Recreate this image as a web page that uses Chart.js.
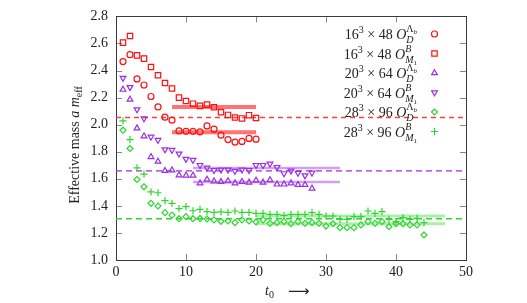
<!DOCTYPE html>
<html>
<head>
<meta charset="utf-8">
<script src="https://cdn.jsdelivr.net/npm/chart.js@4/dist/chart.umd.min.js"></script>
<style>
  html, body { margin: 0; padding: 0; background: #fff; }
  #wrap { width: 527px; height: 303px; }
</style>
</head>
<body>
<div id="wrap"><canvas id="mass-chart" width="527" height="303"></canvas></div>
<script>
// t0 values (time slices)
const t0 = [1, 2, 3, 4, 5, 6, 7, 8, 9, 10, 11, 12, 13, 14, 15, 16, 17, 18, 19, 20, 21, 22,
  23, 24, 25, 26, 27, 28, 29, 30, 31, 32, 33, 34, 35, 36, 37, 38, 39, 40, 41, 42, 43, 44];

// 16^3 x 48
const lambda16 = [2.466, 2.517, 2.338, 2.293, 2.208, 2.131, 2.055, 2.033, 1.954, 1.951,
  1.951, 1.947, 1.991, 1.967, 1.922, 1.890, 1.871, 1.876, 1.898, 1.893];
const meson16 = [2.606, 2.655, 2.512, 2.488, 2.426, 2.365, 2.308, 2.267, 2.200, 2.175,
  2.155, 2.139, 2.148, 2.129, 2.092, 2.072, 2.053, 2.046, 2.070, 2.049];

// 20^3 x 64
const lambda20 = [2.259, 2.186, 1.974, 1.915, 1.762, 1.728, 1.659, 1.664, 1.627, 1.625,
  1.625, 1.568, 1.595, 1.582, 1.578, 1.583, 1.568, 1.578, 1.573, 1.588, 1.573, 1.591,
  1.559, 1.559, 1.568, 1.556, 1.556, 1.529];
const meson20 = [2.345, 2.276, 2.112, 2.046, 1.910, 1.886, 1.817, 1.812, 1.785, 1.746,
  1.738, 1.701, 1.681, 1.664, 1.667, 1.667, 1.657, 1.667, 1.664, 1.701, 1.701, 1.711,
  1.686, 1.640, 1.659, 1.643, 1.624, 1.644];

// 28^3 x 96
const lambda28 = [1.959, 1.824, 1.595, 1.541, 1.419, 1.399, 1.350, 1.332, 1.305, 1.320,
  1.305, 1.307, 1.303, 1.296, 1.286, 1.288, 1.276, 1.296, 1.288, 1.281, 1.296, 1.271,
  1.276, 1.283, 1.268, 1.283, 1.271, 1.276, 1.271, 1.251, 1.268, 1.239, 1.239, 1.239,
  1.259, 1.283, 1.271, 1.283, 1.246, 1.268, 1.268, 1.259, 1.259, 1.185];
const meson28 = [2.028, 1.890, 1.681, 1.635, 1.504, 1.497, 1.438, 1.419, 1.379, 1.394,
  1.364, 1.374, 1.357, 1.352, 1.355, 1.352, 1.362, 1.352, 1.352, 1.345, 1.345, 1.337,
  1.337, 1.330, 1.337, 1.337, 1.337, 1.350, 1.337, 1.325, 1.325, 1.300, 1.300, 1.320,
  1.320, 1.362, 1.345, 1.357, 1.300, 1.283, 1.313, 1.300, 1.308, 1.276];

// plateau fits (level pairs) and their t0 ranges
const fitRed = [2.131, 1.944];
const fitRedRange = [8, 20];
const fitPurple = [1.680, 1.576];
const fitPurpleRange = [11, 32];
const fitGreen = [1.325, 1.268];
const fitGreenRange = [20, 47];

// dashed reference levels (red, purple, green)
const refLevels = [2.053, 1.659, 1.305];

// axis ticks
const xTicks = [0, 10, 20, 30, 40, 50];
const yTicks = [1.0, 1.2, 1.4, 1.6, 1.8, 2.0, 2.2, 2.4, 2.6, 2.8];

const RED = '#ff1010';
const PURPLE = '#9a2fe0';
const GREEN = '#2fd62f';
const SERIF = '"Liberation Serif", "DejaVu Serif", serif';

var toPoints = (vals) => vals.map((v, i) => ({x: t0[i], y: v}));
var flat = (lvl, range) => [{x: range[0], y: lvl}, {x: range[1], y: lvl}];

var markerSet = (vals, color, style, radius, rotation) => ({
  type: 'scatter',
  data: toPoints(vals),
  borderColor: color,
  backgroundColor: 'rgba(0,0,0,0)',
  pointStyle: style,
  pointRadius: radius,
  pointRotation: rotation || 0,
  pointBorderWidth: 1.2,
  showLine: false,
  order: 1
});

var bandSet = (lvl, range, color, width) => ({
  type: 'line',
  data: flat(lvl, range),
  borderColor: color,
  borderWidth: width,
  pointRadius: 0,
  order: 2
});

var dashSet = (lvl, color, width, dash) => ({
  type: 'line',
  data: flat(lvl, [0, 50]),
  borderColor: color,
  borderWidth: width,
  borderDash: dash,
  pointRadius: 0,
  order: 3
});

const datasets = [
  markerSet(lambda16, RED, 'circle', 3),
  markerSet(meson16, RED, 'rect', 3.8),
  markerSet(lambda20, PURPLE, 'triangle', 3.3),
  markerSet(meson20, PURPLE, 'triangle', 3.3, 180),
  markerSet(lambda28, GREEN, 'rectRot', 3),
  markerSet(meson28, GREEN, 'cross', 3.6),
  bandSet(fitRed[0], fitRedRange, 'rgba(255,40,40,0.65)', 4),
  bandSet(fitRed[1], fitRedRange, 'rgba(255,40,40,0.65)', 4),
  bandSet(fitPurple[0], fitPurpleRange, 'rgba(154,47,224,0.45)', 2.5),
  bandSet(fitPurple[1], fitPurpleRange, 'rgba(154,47,224,0.45)', 2.5),
  bandSet(fitGreen[0], fitGreenRange, 'rgba(47,214,47,0.4)', 3),
  bandSet(fitGreen[1], fitGreenRange, 'rgba(47,214,47,0.4)', 3),
  dashSet(refLevels[0], '#ff4040', 1.4, [5, 4]),
  dashSet(refLevels[1], PURPLE, 1.3, [6, 4]),
  dashSet(refLevels[2], GREEN, 1.6, [6, 4])
];

// small rich-text helper: pieces {t, sz, it, dy} or {stack: [top, bottom, dyTop, dyBot]}
var fontOf = (sz, it) => (it ? 'italic ' : '') + (sz || 14) + 'px ' + SERIF;
function pieceWidth(ctx, p) {
  if (p.stack) return Math.max(rowWidth(ctx, p.stack[0]), rowWidth(ctx, p.stack[1]));
  ctx.font = fontOf(p.sz, p.it);
  return ctx.measureText(p.t).width;
}
function rowWidth(ctx, row) {
  return row.reduce((w, p) => w + pieceWidth(ctx, p), 0);
}
function drawRow(ctx, row, x, y) {
  for (const p of row) {
    if (p.stack) {
      drawRow(ctx, p.stack[0], x, y + p.stack[2]);
      drawRow(ctx, p.stack[1], x, y + p.stack[3]);
    } else {
      ctx.font = fontOf(p.sz, p.it);
      ctx.fillText(p.t, x, y + (p.dy || 0));
    }
    x += pieceWidth(ctx, p);
  }
}

var lambdaOp = [{t: 'O', it: true}, {stack: [[{t: 'Λ', sz: 10}, {t: 'b', sz: 7, it: true, dy: 2}], [{t: 'D', sz: 10, it: true}], -7, 4]}];
var mesonOp = [{t: 'O', it: true}, {stack: [[{t: 'B', sz: 10, it: true}], [{t: 'M', sz: 10, it: true}, {t: '1', sz: 7, dy: 2}], -7, 4]}];
var lattice = (l, tt) => [{t: l}, {t: '3', sz: 10, dy: -6}, {t: ' × ' + tt + ' '}];

const legendRows = [
  {row: lattice('16', '48').concat(lambdaOp), color: RED, style: 'circle', r: 3, rot: 0},
  {row: lattice('16', '48').concat(mesonOp), color: RED, style: 'rect', r: 3.8, rot: 0},
  {row: lattice('20', '64').concat(lambdaOp), color: PURPLE, style: 'triangle', r: 3.3, rot: 0},
  {row: lattice('20', '64').concat(mesonOp), color: PURPLE, style: 'triangle', r: 3.3, rot: 180},
  {row: lattice('28', '96').concat(lambdaOp), color: GREEN, style: 'rectRot', r: 3, rot: 0},
  {row: lattice('28', '96').concat(mesonOp), color: GREEN, style: 'cross', r: 3.6, rot: 0}
];

const decorations = {
  id: 'decorations',
  beforeDatasetsDraw(chart) {
    const ctx = chart.ctx;
    const a = chart.chartArea;
    const xs = chart.scales.x, ys = chart.scales.y;
    ctx.save();
    // inward ticks
    ctx.strokeStyle = '#888';
    ctx.lineWidth = 1;
    ctx.beginPath();
    yTicks.forEach(v => {
      const py = Math.round(ys.getPixelForValue(v)) + 0.5;
      ctx.moveTo(a.left, py); ctx.lineTo(a.left + 6, py);
      ctx.moveTo(a.right, py); ctx.lineTo(a.right - 6, py);
    });
    xTicks.forEach(v => {
      const px = Math.round(xs.getPixelForValue(v)) + 0.5;
      ctx.moveTo(px, a.bottom); ctx.lineTo(px, a.bottom - 6);
      ctx.moveTo(px, a.top); ctx.lineTo(px, a.top + 6);
    });
    ctx.stroke();
    // frame
    ctx.strokeStyle = '#3a3a3a';
    ctx.strokeRect(Math.round(a.left) + 0.5, Math.round(a.top) + 0.5,
      Math.round(a.right - a.left), Math.round(a.bottom - a.top));
    ctx.restore();
  },
  afterDraw(chart) {
    const ctx = chart.ctx;
    ctx.save();
    ctx.fillStyle = '#222';
    ctx.textBaseline = 'alphabetic';
    // legend
    legendRows.forEach((e, i) => {
      const cy = 34 + i * 19.5;
      const w = rowWidth(ctx, e.row);
      ctx.fillStyle = '#222';
      drawRow(ctx, e.row, 417 - w, cy + 5);
      ctx.strokeStyle = e.color;
      ctx.fillStyle = 'rgba(0,0,0,0)';
      ctx.lineWidth = 1.2;
      Chart.helpers.drawPoint(ctx, {pointStyle: e.style, radius: e.r, rotation: e.rot, borderWidth: 1.2}, 434.5, cy);
    });
    // x title
    ctx.fillStyle = '#222';
    drawRow(ctx, [{t: 't', it: true}, {t: '0', sz: 10, dy: 3}], 265, 295);
    ctx.font = '15px "DejaVu Sans", sans-serif';
    ctx.fillText('⟶', 288, 296);
    // y title
    const yTitle = [{t: 'Effective mass '}, {t: 'a', it: true}, {t: ' '}, {t: 'm', it: true}, {t: 'eff', sz: 10, dy: 3}];
    ctx.translate(75, 145);
    ctx.rotate(-Math.PI / 2);
    drawRow(ctx, yTitle, -rowWidth(ctx, yTitle) / 2, 4);
    ctx.restore();
  }
};

const config = {
  type: 'scatter',
  data: {datasets},
  options: {
    responsive: false,
    animation: false,
    layout: {padding: {left: 0, top: 16, right: 61, bottom: 0}},
    plugins: {legend: {display: false}, tooltip: {enabled: false}},
    scales: {
      x: {
        type: 'linear', min: 0, max: 50,
        afterBuildTicks: s => { s.ticks = xTicks.map(v => ({value: v})); },
        afterFit: s => { s.height = 43; },
        ticks: {color: '#222', padding: 4, font: {family: SERIF, size: 14}},
        grid: {display: false, drawTicks: false},
        border: {display: false}
      },
      y: {
        min: 1.0, max: 2.8,
        afterBuildTicks: s => { s.ticks = yTicks.map(v => ({value: v})); },
        afterFit: s => { s.width = 116; },
        ticks: {color: '#222', padding: 8, font: {family: SERIF, size: 14},
          callback: v => v.toFixed(1)},
        grid: {display: false, drawTicks: false},
        border: {display: false}
      }
    }
  },
  plugins: [decorations]
};

var chart = new Chart(document.getElementById('mass-chart').getContext('2d'), config);
</script>
</body>
</html>
